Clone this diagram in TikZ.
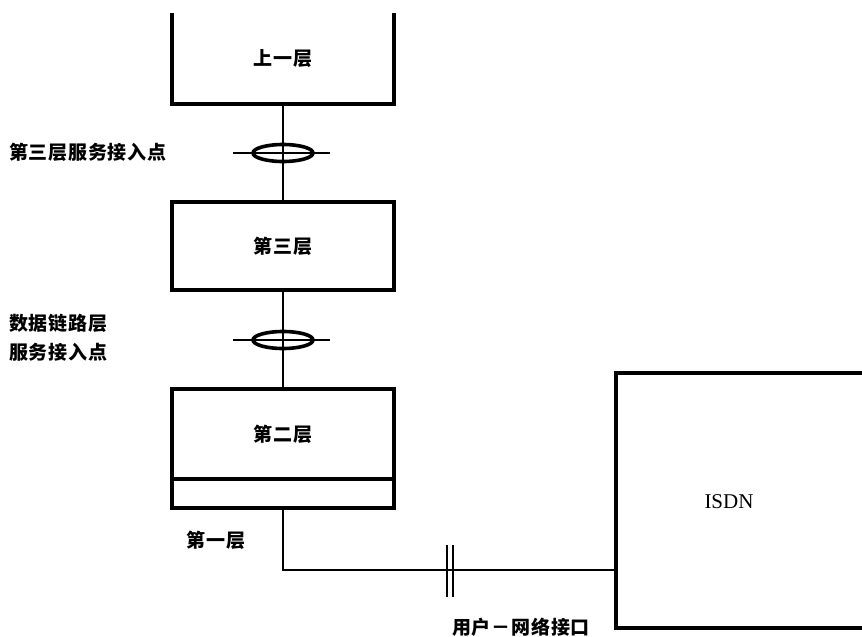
\documentclass[tikz,border=0pt]{standalone}
\usepackage{fontspec}
\usetikzlibrary{shapes.geometric}
\newfontfamily\cjk{Noto Sans CJK SC}[LetterSpace=4]
\newfontfamily\isdnfont{Liberation Serif}
\begin{document}
\begin{tikzpicture}[x=1pt,y=-1pt,
  cjklabel/.style={font=\cjk\bfseries\fontsize{19}{29}\selectfont, inner sep=0pt},
  layerbox/.style={draw, line width=3.4pt, minimum width=222pt, inner sep=0pt, outer sep=0pt, cjklabel},
  openbox/.style={minimum width=222pt, inner sep=0pt, outer sep=0pt, cjklabel},
  conn/.style={line width=1.5pt},
  sap/.style={ellipse, draw, line width=3.6pt, minimum width=60pt, minimum height=17pt, inner sep=0pt},
  brk/.style={line width=1.4pt}]
\useasboundingbox (0,0) rectangle (862,637);

% upper layer (open on top)
\node[openbox, minimum height=91pt] (upper) at (283,58.5) {上一层};
\draw[line width=3.4pt] (upper.north west) -- (upper.south west) -- (upper.south east) -- (upper.north east);

% layer 3
\node[layerbox, minimum height=88pt] (l3) at (283,246) {第三层};

% layer 2 and layer 1 strip
\node[layerbox, minimum height=90pt] (l2) at (283,434) {第二层};
\node[layerbox, minimum height=29pt, anchor=north] (l1) at (l2.south) {};

% SAPs
\node[sap] (sap3) at (283,153) {};
\node[sap] (sap2) at (283,340) {};
\draw[conn] (upper.south) -- (l3.north);
\draw[conn] (l3.south) -- (l2.north);
\draw[conn] ([xshift=-50pt]sap3.center) -- ([xshift=47pt]sap3.center);
\draw[conn] ([xshift=-50pt]sap2.center) -- ([xshift=47pt]sap2.center);

% labels
\node[cjklabel, anchor=west] (lab3) at (9,152) {第三层服务接入点};
\node[cjklabel, anchor=west, align=left] (lab2) at (9,338) {数据链路层\\服务接入点};
\node[cjklabel] (lab1) at (216,540) {第一层};

% ISDN (open on the right)
\node[minimum width=260pt, minimum height=255pt, inner sep=0pt, outer sep=0pt, anchor=north west] (isdn) at (616,373) {};
\draw[line width=3.4pt] (isdn.north east) -- (isdn.north west) -- (isdn.south west) -- (isdn.south east);
\node[font=\isdnfont\fontsize{21}{24}\selectfont, inner sep=0pt] (isdnlabel) at (729,502) {ISDN};

% user-network connection
\coordinate (uni) at (616,570);
\draw[conn] (l1.south) |- (uni);
\coordinate (b1t) at (447,545);
\coordinate (b1b) at (447,597);
\coordinate (b2t) at (453,545);
\coordinate (b2b) at (453,597);
\draw[brk] (b1t) -- (b1b);
\draw[brk] (b2t) -- (b2b);
\node[cjklabel] (unilabel) at (521,627) {用户－网络接口};
\end{tikzpicture}
\end{document}
